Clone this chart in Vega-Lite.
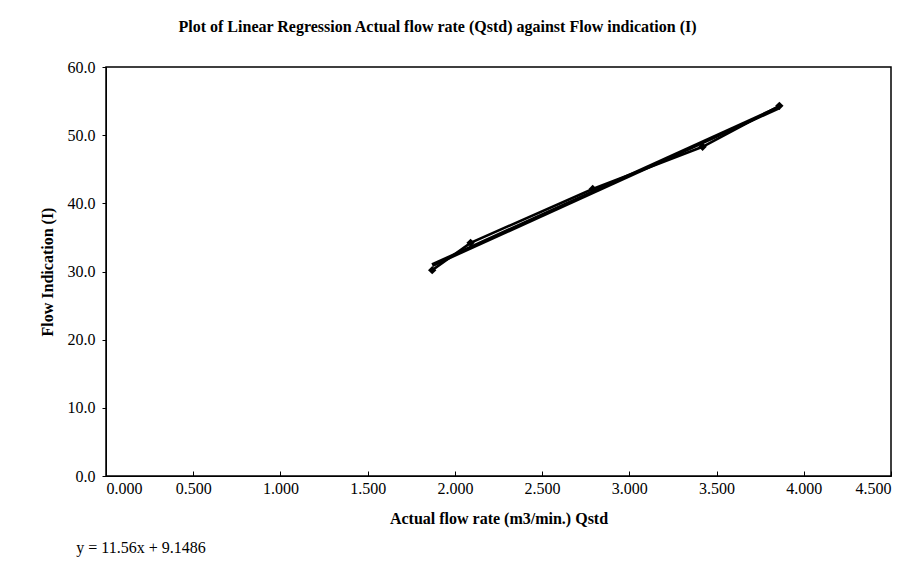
{
  "$schema": "https://vega.github.io/schema/vega-lite/v6.json",
  "width": 785,
  "height": 409,
  "autosize": {"type": "none"},
  "padding": {"left": 106, "top": 67, "right": 33, "bottom": 85},
  "background": "white",
  "title": {
    "text": "Plot of Linear Regression Actual flow rate (Qstd) against Flow indication (I)",
    "font": "Liberation Serif",
    "fontSize": 16,
    "fontWeight": "bold",
    "color": "black",
    "anchor": "middle",
    "dx": -61,
    "offset": 24
  },
  "config": {
    "view": {"stroke": "black", "strokeWidth": 1.5},
    "axis": {
      "labelFont": "Liberation Serif",
      "titleFont": "Liberation Serif",
      "labelFontSize": 16,
      "titleFontSize": 16,
      "labelColor": "black",
      "titleColor": "black",
      "domainColor": "black",
      "tickColor": "black",
      "grid": false
    }
  },
  "datasets": {
    "points": [
      {"q": 1.87, "i": 30.2},
      {"q": 2.09, "i": 34.2},
      {"q": 2.79, "i": 42.1},
      {"q": 3.42, "i": 48.3},
      {"q": 3.86, "i": 54.3}
    ],
    "note": [
      {"q": -0.17, "i": -10.6, "label": "y = 11.56x + 9.1486"}
    ]
  },
  "layer": [
    {
      "data": {"name": "points"},
      "mark": {"type": "line", "color": "black", "strokeWidth": 2.5, "clip": false},
      "encoding": {
        "x": {
          "field": "q", "type": "quantitative",
          "scale": {"domain": [0, 4.5], "nice": false, "zero": false},
          "axis": {
            "title": "Actual flow rate (m3/min.) Qstd",
            "titleFontWeight": "bold",
            "titlePadding": 14,
            "format": ".3f",
            "values": [0, 0.5, 1, 1.5, 2, 2.5, 3, 3.5, 4, 4.5],
            "tickSize": -5,
            "labelPadding": 9
          }
        },
        "y": {
          "field": "i", "type": "quantitative",
          "scale": {"domain": [0, 60], "nice": false},
          "axis": {
            "title": "Flow Indication (I)",
            "titleFontWeight": "bold",
            "titlePadding": 12,
            "format": ".1f",
            "values": [0, 10, 20, 30, 40, 50, 60],
            "tickSize": 4,
            "labelPadding": 7
          }
        }
      }
    },
    {
      "data": {"name": "points"},
      "transform": [{"regression": "i", "on": "q"}],
      "mark": {"type": "line", "color": "black", "strokeWidth": 4},
      "encoding": {
        "x": {"field": "q", "type": "quantitative"},
        "y": {"field": "i", "type": "quantitative"}
      }
    },
    {
      "data": {"name": "points"},
      "mark": {"type": "point", "shape": "diamond", "filled": true, "color": "black", "size": 70, "opacity": 1},
      "encoding": {
        "x": {"field": "q", "type": "quantitative"},
        "y": {"field": "i", "type": "quantitative"}
      }
    },
    {
      "data": {"name": "note"},
      "mark": {"type": "text", "align": "left", "baseline": "middle", "font": "Liberation Serif", "fontSize": 16, "color": "black", "clip": false},
      "encoding": {
        "x": {"field": "q", "type": "quantitative"},
        "y": {"field": "i", "type": "quantitative"},
        "text": {"field": "label"}
      }
    }
  ]
}
